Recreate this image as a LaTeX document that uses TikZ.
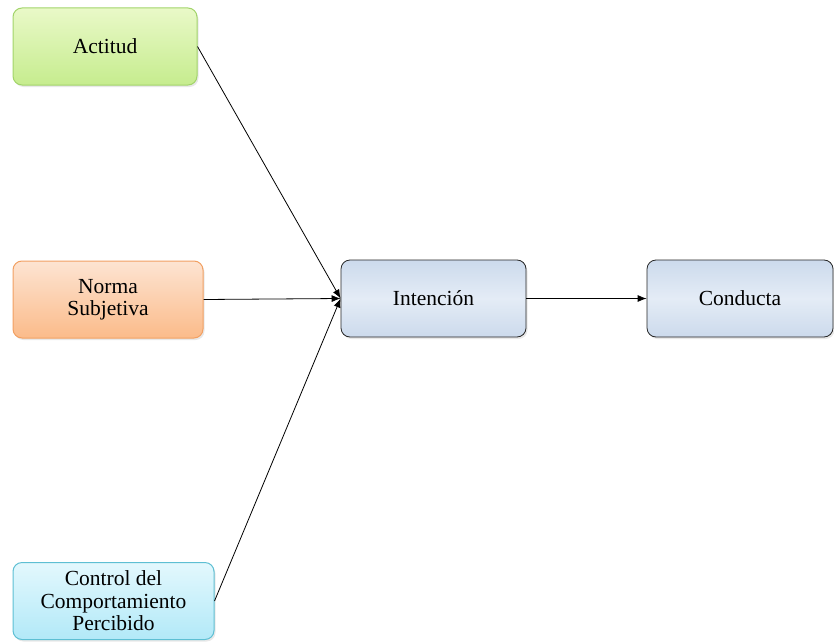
\documentclass[tikz,border=0pt]{standalone}
\usepackage{fontspec}
\setmainfont{Liberation Serif}
\usetikzlibrary{arrows.meta,shadows,positioning}
\definecolor{grtop}{HTML}{E9F9C8}
\definecolor{grbot}{HTML}{C6EC8E}
\definecolor{grline}{HTML}{A2D46A}
\definecolor{ortop}{HTML}{FDE4D2}
\definecolor{orbot}{HTML}{FBBB8A}
\definecolor{orline}{HTML}{F2A062}
\definecolor{cytop}{HTML}{E3F8FD}
\definecolor{cybot}{HTML}{B2E9F8}
\definecolor{cyline}{HTML}{5DBFD3}
\definecolor{bltop}{HTML}{CCDAEC}
\definecolor{blmid}{HTML}{E4ECF6}
\definecolor{blline}{HTML}{262626}
\tikzset{
  box/.style={rounded corners=9pt, minimum width=#1, minimum height=77pt,
    align=center, font=\fontsize{21.5}{22.5}\selectfont, inner sep=1pt,
    drop shadow={shadow xshift=1.5pt, shadow yshift=-2pt, opacity=0.18}},
  greenbox/.style={box=184pt, draw=grline, line width=1pt, top color=grtop, bottom color=grbot},
  orangebox/.style={box=190pt, draw=orline, line width=1pt, top color=ortop, bottom color=orbot},
  cyanbox/.style={box=201pt, draw=cyline, line width=1pt, top color=cytop, bottom color=cybot},
  bluebox/.style={box=185pt, draw=blline, line width=0.8pt, top color=bltop, bottom color=bltop, middle color=blmid},
  link/.style={draw=black, line width=0.8pt, -{Latex[length=9pt,width=7pt]}}
}
\begin{document}
\begin{tikzpicture}[x=1pt,y=-1pt]
  \useasboundingbox (0,0) rectangle (834,642);
  \node[greenbox]  (act)  at (105,46.5)  {Actitud};
  \node[orangebox] (norm) at (108,299.5) {Norma\\Subjetiva};
  \node[cyanbox]   (ctrl) at (113.5,601) {Control del\\Comportamiento\\Percibido};
  \node[bluebox]   (int)  at (433.5,298.5) {Intención};
  \node[bluebox, minimum width=186pt] (cond) at (740,298.5) {Conducta};
  \draw[link] (act.east) -- (int.west);
  \draw[link] (norm.east) -- (int.west);
  \draw[link] (ctrl.east) -- (int.west);
  \draw[link] (int.east) -- (cond.west);
\end{tikzpicture}
\end{document}
